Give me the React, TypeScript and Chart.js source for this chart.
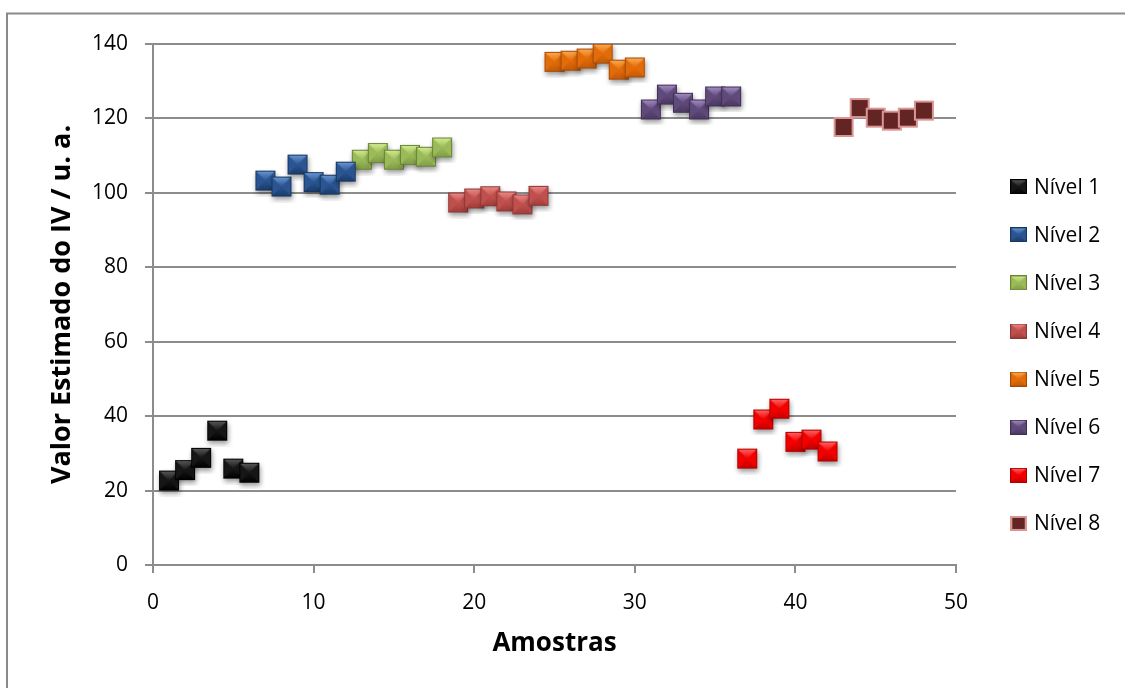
import { useEffect, useRef } from "react";
import { Chart, registerables } from "chart.js";

Chart.register(...registerables);

const seriesNames = ["Nível 1", "Nível 2", "Nível 3", "Nível 4", "Nível 5", "Nível 6", "Nível 7", "Nível 8"];

const amostras1 = [1, 2, 3, 4, 5, 6];
const amostras2 = [7, 8, 9, 10, 11, 12];
const amostras3 = [13, 14, 15, 16, 17, 18];
const amostras4 = [19, 20, 21, 22, 23, 24];
const amostras5 = [25, 26, 27, 28, 29, 30];
const amostras6 = [31, 32, 33, 34, 35, 36];
const amostras7 = [37, 38, 39, 40, 41, 42];
const amostras8 = [43, 44, 45, 46, 47, 48];

const valores1 = [22.7, 25.5, 28.8, 36.1, 25.9, 24.8];
const valores2 = [103.3, 101.7, 107.6, 102.9, 102.2, 105.7];
const valores3 = [108.9, 110.7, 108.9, 110.2, 109.7, 112.2];
const valores4 = [97.4, 98.5, 99.1, 97.7, 96.9, 99.2];
const valores5 = [135.2, 135.5, 136.1, 137.4, 133.1, 133.7];
const valores6 = [122.4, 126.4, 124.2, 122.4, 125.9, 125.9];
const valores7 = [28.6, 39.1, 42.0, 33.1, 33.7, 30.5];
const valores8 = [117.7, 122.8, 120.2, 119.4, 120.2, 122.1];

const xTickValues = [0, 10, 20, 30, 40, 50];
const yTickValues = [0, 20, 40, 60, 80, 100, 120, 140];

const allAmostras = [amostras1, amostras2, amostras3, amostras4, amostras5, amostras6, amostras7, amostras8];
const allValores = [valores1, valores2, valores3, valores4, valores5, valores6, valores7, valores8];

type Pal = { base: string; light: string; dark: string; edge: string; flat?: boolean };

const palettes: Pal[] = [
  { base: "#161616", light: "#5c5c5c", dark: "#000000", edge: "#000000" },
  { base: "#2A5592", light: "#6C99D8", dark: "#1A3A68", edge: "#17375E" },
  { base: "#9BBB59", light: "#D6EE92", dark: "#7F9C46", edge: "#6B8537" },
  { base: "#C0504D", light: "#EE8C89", dark: "#A03D3A", edge: "#8C3836" },
  { base: "#E36C09", light: "#FDAE55", dark: "#C2590A", edge: "#A64B07" },
  { base: "#604A7B", light: "#A78FC6", dark: "#4A3861", edge: "#3F3151" },
  { base: "#F20000", light: "#FF6868", dark: "#C40000", edge: "#B00000" },
  { base: "#632523", light: "#632523", dark: "#632523", edge: "#D99694", flat: true },
];

function tri(ctx: CanvasRenderingContext2D, pts: number[], fill: string | CanvasGradient) {
  ctx.beginPath();
  ctx.moveTo(pts[0], pts[1]);
  ctx.lineTo(pts[2], pts[3]);
  ctx.lineTo(pts[4], pts[5]);
  ctx.closePath();
  ctx.fillStyle = fill;
  ctx.fill();
}

function makeMarker(c: Pal, size: number, pad: number, shadow: boolean): HTMLCanvasElement {
  const cv = document.createElement("canvas");
  cv.width = size + pad * 2;
  cv.height = size + pad * 2;
  const ctx = cv.getContext("2d") as CanvasRenderingContext2D;
  const x0 = pad;
  const y0 = pad;
  const s = size;
  const cx = x0 + s / 2;
  const cy = y0 + s / 2;
  if (shadow) {
    ctx.save();
    ctx.shadowColor = "rgba(0,0,0,0.4)";
    ctx.shadowBlur = 5;
    ctx.shadowOffsetX = 1;
    ctx.shadowOffsetY = 3;
    ctx.fillStyle = c.base;
    ctx.fillRect(x0, y0, s, s);
    ctx.restore();
  }
  if (c.flat) {
    ctx.fillStyle = c.base;
    ctx.fillRect(x0, y0, s, s);
    ctx.strokeStyle = c.edge;
    ctx.lineWidth = 2;
    ctx.strokeRect(x0 + 1, y0 + 1, s - 2, s - 2);
    return cv;
  }
  ctx.fillStyle = c.base;
  ctx.fillRect(x0, y0, s, s);
  tri(ctx, [x0, y0, x0, y0 + s, cx, cy], c.base);
  tri(ctx, [x0 + s, y0, x0 + s, y0 + s, cx, cy], c.base);
  const g = ctx.createLinearGradient(0, y0, 0, cy);
  g.addColorStop(0, c.light);
  g.addColorStop(1, c.base);
  tri(ctx, [x0, y0, x0 + s, y0, cx, cy], g);
  const g2 = ctx.createLinearGradient(0, cy, 0, y0 + s);
  g2.addColorStop(0, c.base);
  g2.addColorStop(1, c.dark);
  tri(ctx, [x0, y0 + s, x0 + s, y0 + s, cx, cy], g2);
  ctx.strokeStyle = c.edge;
  ctx.lineWidth = 1;
  ctx.strokeRect(x0 + 0.5, y0 + 0.5, s - 1, s - 1);
  return cv;
}

const FONT = "'Open Sans', 'Liberation Sans', sans-serif";

export default function App() {
  const ref = useRef<HTMLCanvasElement | null>(null);

  useEffect(() => {
    const canvas = ref.current;
    if (!canvas) return;

    const pointImgs = palettes.map((p) => makeMarker(p, 20, 6, !p.flat));
    const legendImgs = palettes.map((p) => makeMarker(p, 15, 0, false));

    const datasets = seriesNames.map((name, i) => ({
      label: name,
      data: allAmostras[i].map((x, j) => ({ x, y: allValores[i][j] })),
      pointStyle: pointImgs[i] as any,
      pointRadius: 10,
      pointHoverRadius: 10,
      showLine: false,
      backgroundColor: palettes[i].base,
      borderColor: palettes[i].edge,
    }));

    const decor = {
      id: "decor",
      beforeDraw(chart: any) {
        const ctx = chart.ctx as CanvasRenderingContext2D;
        ctx.save();
        ctx.fillStyle = "#ffffff";
        ctx.fillRect(0, 0, chart.width, chart.height);
        ctx.strokeStyle = "#8a8a8a";
        ctx.lineWidth = 2;
        ctx.beginPath();
        ctx.moveTo(7, chart.height + 2);
        ctx.lineTo(7, 13.5);
        ctx.lineTo(chart.width + 2, 13.5);
        ctx.stroke();
        ctx.restore();
      },
      afterDraw(chart: any) {
        const ctx = chart.ctx as CanvasRenderingContext2D;
        ctx.save();
        const lx = chart.chartArea.right + 54;
        const y0 = 186.7;
        const step = 48.1;
        ctx.font = `21px ${FONT}`;
        ctx.fillStyle = "#000000";
        ctx.textBaseline = "middle";
        ctx.textAlign = "left";
        seriesNames.forEach((name, i) => {
          const cy = y0 + i * step;
          ctx.drawImage(legendImgs[i], lx, cy - 7.5, 17, 15);
          ctx.fillText(name, lx + 24, cy + 1);
        });
        ctx.restore();
      },
    };

    const chart = new Chart(canvas, {
      type: "scatter",
      data: { datasets },
      options: {
        animation: false,
        responsive: false,
        events: [],
        layout: { padding: { top: 44, left: 38, right: 169, bottom: 0 } },
        plugins: {
          legend: { display: false },
          tooltip: { enabled: false },
        },
        scales: {
          x: {
            type: "linear",
            min: 0,
            max: 50,
            afterFit(scale: any) {
              scale.height = 123;
            },
            afterBuildTicks(scale: any) {
              scale.ticks = xTickValues.map((v) => ({ value: v }));
            },
            grid: {
              drawOnChartArea: false,
              drawTicks: true,
              tickLength: 8,
              color: "#8c8c8c",
              lineWidth: 2,
            },
            border: { display: true, color: "#8c8c8c", width: 2 },
            ticks: {
              padding: 17,
              color: "#000000",
              font: { family: FONT, size: 21 },
              maxRotation: 0,
            },
            title: {
              display: true,
              text: "Amostras",
              color: "#000000",
              font: { family: FONT, size: 26, weight: "bold" },
              padding: { top: 0, bottom: 29 },
            },
          },
          y: {
            type: "linear",
            min: 0,
            max: 140,
            afterFit(scale: any) {
              scale.width = 115;
            },
            afterBuildTicks(scale: any) {
              scale.ticks = yTickValues.map((v) => ({ value: v }));
            },
            grid: {
              drawOnChartArea: true,
              drawTicks: true,
              tickLength: 8,
              color: "#8c8c8c",
              lineWidth: 2,
            },
            border: { display: true, color: "#8c8c8c", width: 2 },
            ticks: {
              padding: 17,
              color: "#000000",
              font: { family: FONT, size: 21 },
            },
            title: {
              display: true,
              text: "Valor Estimado do IV / u. a.",
              color: "#000000",
              font: { family: FONT, size: 27, weight: "bold" },
              padding: { top: 8, bottom: 0 },
            },
          },
        },
      },
      plugins: [decor],
    } as any);

    return () => {
      chart.destroy();
    };
  }, []);

  return (
    <div style={{ position: "fixed", left: 0, top: 0, width: 1125, height: 688, background: "#fff" }}>
      <canvas ref={ref} width={1125} height={688} style={{ display: "block", width: 1125, height: 688 }} />
    </div>
  );
}
